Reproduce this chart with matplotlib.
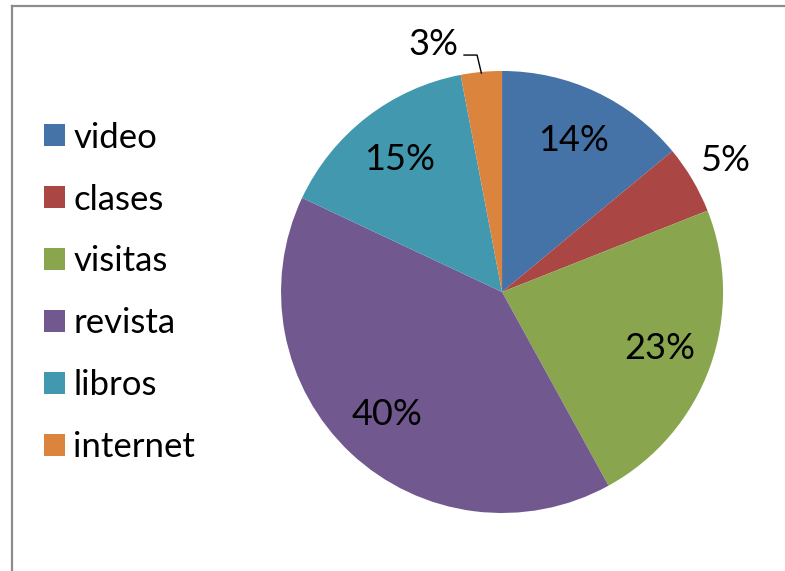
import numpy as np
import matplotlib.pyplot as plt
from matplotlib.patches import Patch
from matplotlib.lines import Line2D

categories = ['video', 'clases', 'visitas', 'revista', 'libros', 'internet']
percent = [14, 5, 23, 40, 15, 3]
colors = ['#4572A7', '#AA4643', '#89A54E', '#71588F', '#4198AF', '#DB843D']

plt.rcParams['font.family'] = ['Lato', 'DejaVu Sans']

fig = plt.figure(figsize=(7.85, 5.71), dpi=100)
ax = fig.add_axes([0.358, 0.1016, 0.5631, 0.7741])

wedges, _ = ax.pie(percent, colors=colors, startangle=90, counterclock=False,
                   radius=1, wedgeprops=dict(linewidth=0))
ax.set_xlim(-1, 1)
ax.set_ylim(-1, 1)
ax.set_aspect('equal')
ax.axis('off')

# labels: most sit inside, the two small ones go outside
for w, p in zip(wedges, percent):
    mid = np.radians((w.theta1 + w.theta2) / 2)
    if p == 5:
        r = 1.17
        ax.text(r * np.cos(mid), r * np.sin(mid), f'{p}%', ha='center', va='center',
                fontsize=26, color='black')
    elif p == 3:
        ex, ey = np.cos(mid), np.sin(mid)
        ax.add_line(Line2D([ex * 0.995, -0.113, -0.172], [ey * 0.995, 1.072, 1.072],
                           color='black', lw=1, clip_on=False))
        ax.text(-0.312, 1.118, f'{p}%', ha='center', va='center', fontsize=26,
                color='black', clip_on=False)
    else:
        r = 0.76
        ax.text(r * np.cos(mid), r * np.sin(mid), f'{p}%', ha='center', va='center',
                fontsize=26, color='black')

handles = [Patch(facecolor=c, edgecolor='none') for c in colors]
fig.legend(handles, categories, loc='center left', bbox_to_anchor=(0.056, 0.488),
           frameon=False, fontsize=25, handlelength=0.6, handleheight=0.6,
           handletextpad=0.25, labelspacing=0.86, borderpad=0, borderaxespad=0)

# chart area border (left and top edges visible)
bx, by = 11.5 / 785, 1 - 5.5 / 571
fig.add_artist(Line2D([bx, bx], [0, by], transform=fig.transFigure, color='#8c8c8c', lw=1.6))
fig.add_artist(Line2D([bx, 1], [by, by], transform=fig.transFigure, color='#8c8c8c', lw=1.6))

fig.savefig('out.png', dpi=100)
